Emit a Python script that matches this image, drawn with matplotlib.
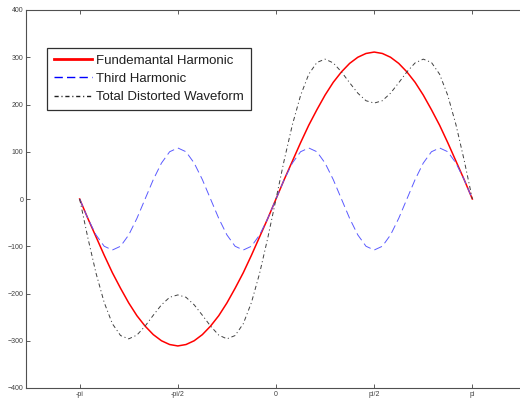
import matplotlib

matplotlib.use("Agg")
import matplotlib.pyplot as plt
import numpy as np

plt.rcParams["font.family"] = ["Liberation Sans", "DejaVu Sans"]
plt.rcParams["lines.scale_dashes"] = False

# sample positions: -pi .. pi in steps of pi/24
x_steps = list(range(-24, 25))

fundamental = [0, -41, -80, -119, -156, -189, -220, -247, -269, -287, -300, -308, -311,
               -308, -300, -287, -269, -247, -220, -189, -156, -119, -80, -41, 0,
               41, 80, 119, 156, 189, 220, 247, 269, 287, 300, 308, 311,
               308, 300, 287, 269, 247, 220, 189, 156, 119, 80, 41, 0]

third = [0, -41, -76, -100, -108, -100, -76, -41, 0, 41, 76, 100, 108,
         100, 76, 41, 0, -41, -76, -100, -108, -100, -76, -41, 0,
         41, 76, 100, 108, 100, 76, 41, 0, -41, -76, -100, -108,
         -100, -76, -41, 0, 41, 76, 100, 108, 100, 76, 41, 0]

total = [0, -82, -157, -219, -264, -289, -296, -288, -269, -246, -224, -208, -203,
         -208, -224, -246, -269, -288, -296, -289, -264, -219, -157, -82, 0,
         82, 157, 219, 264, 289, 296, 288, 269, 246, 224, 208, 203,
         208, 224, 246, 269, 288, 296, 289, 264, 219, 157, 82, 0]

tick_pos = [-np.pi, -np.pi / 2, 0, np.pi / 2, np.pi]
tick_labels = ["-pi", "-pi/2", "0", "pi/2", "pi"]

x = np.array(x_steps) * np.pi / 24

W, H = 520, 398
fig = plt.figure(figsize=(W / 100, H / 100), dpi=100)
ax = fig.add_axes([26 / W, 10 / H, 500 / W, 378 / H])

ax.plot(x, fundamental, color="red", linewidth=1.1, label="Fundemantal Harmonic")
ax.plot(x, third, color="#5a5aff", linewidth=0.7, dashes=(6, 3),
        label="Third Harmonic")
ax.plot(x, total, color="#404040", linewidth=0.7, dashes=(3, 2, 0.8, 2),
        label="Total Distorted Waveform")

ax.set_xlim(-4, 4)
ax.set_ylim(-400, 400)
ax.set_xticks(tick_pos)
ax.set_xticklabels(tick_labels)
ax.set_yticks(range(-400, 401, 100))
ax.tick_params(direction="in", length=3, width=0.6, labelsize=5,
               top=True, right=True, colors="#404040", pad=2)
for s in ax.spines.values():
    s.set_color("#505050")
    s.set_linewidth(0.8)

leg = ax.legend(loc="upper left", bbox_to_anchor=(47 / W, 1 - 48 / H),
                bbox_transform=fig.transFigure, borderaxespad=0,
                fontsize=9.5, fancybox=False, framealpha=1,
                edgecolor="#303030", handlelength=2.9, handletextpad=0.35,
                labelspacing=0.45, borderpad=0.5)
leg.get_frame().set_linewidth(0.9)
for ln, lw, c in zip(leg.get_lines(), [2.0, 1.0, 1.0], ["red", "blue", "#202020"]):
    ln.set_linewidth(lw)
    ln.set_color(c)
for t in leg.get_texts():
    t.set_color("#202020")

fig.savefig("out.png", dpi=100, facecolor="white")
